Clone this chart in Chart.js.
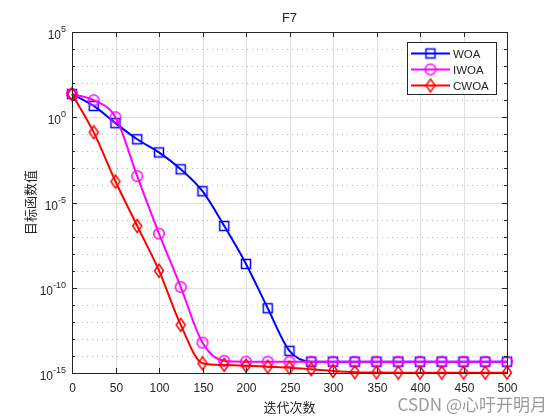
<!DOCTYPE html>
<html>
<head>
<meta charset="utf-8">
<script src="https://cdn.jsdelivr.net/npm/chart.js@4"></script>
<style>
  body { margin: 0; background: #fff; }
  canvas { display: block; }
</style>
</head>
<body>
<canvas id="chart" width="560" height="420"></canvas>
<script>
// ===== data =====
const iterations = [0, 25, 50, 75, 100, 125, 150, 175, 200, 225, 250, 275, 300, 325, 350, 375, 400, 425, 450, 475, 500];
const woa  = [2.3e1, 4.6e0, 4.5e-1, 5.1e-2, 8.7e-3, 8.9e-4, 4.6e-5, 4.2e-7, 2.5e-9, 6.3e-12, 2.0e-14,
              4.6e-15, 4.6e-15, 4.6e-15, 4.6e-15, 4.6e-15, 4.6e-15, 4.6e-15, 4.6e-15, 4.6e-15, 4.6e-15];
const iwoa = [2.3e1, 1.0e1, 1.0e0, 3.5e-4, 1.5e-7, 1.1e-10, 6.0e-14, 5.2e-15,
              4.6e-15, 4.6e-15, 4.6e-15, 4.6e-15, 4.6e-15, 4.6e-15, 4.6e-15, 4.6e-15, 4.6e-15, 4.6e-15, 4.6e-15, 4.6e-15, 4.6e-15];
const cwoa = [2.3e1, 1.3e-1, 1.7e-4, 4.2e-7, 1.0e-9, 6.6e-13, 3.7e-15, 2.95e-15, 2.7e-15, 2.35e-15, 2.05e-15,
              1.66e-15, 1.32e-15, 1.12e-15, 1.08e-15, 1.05e-15, 1.05e-15, 1.05e-15, 1.05e-15, 1.05e-15, 1.05e-15];
const seriesNames = ['WOA', 'IWOA', 'CWOA'];
const xTicks = [0, 50, 100, 150, 200, 250, 300, 350, 400, 450, 500];
const yMajorExp = [-15, -10, -5, 0, 5];

const FONT = '"Liberation Sans", Arial, Helvetica, sans-serif';
const CJK = '"Noto Sans CJK SC", sans-serif';
const AXIS = '#262626';

// ===== markers =====
function makeMarker(shape, color) {
  const c = document.createElement('canvas');
  c.width = 16; c.height = 16;
  const g = c.getContext('2d');
  g.strokeStyle = color;
  g.lineWidth = 1.5;
  g.beginPath();
  if (shape === 'square') {
    g.rect(3.5, 3.5, 9, 9);
  } else if (shape === 'circle') {
    g.arc(8, 8, 5.3, 0, Math.PI * 2);
  } else {
    g.moveTo(8, 1.5); g.lineTo(12.5, 8); g.lineTo(8, 14.5); g.lineTo(3.5, 8); g.closePath();
  }
  g.stroke();
  return c;
}
const colors = ['#0000ff', '#ff00ff', '#ff0000'];
const markers = [makeMarker('square', colors[0]), makeMarker('circle', colors[1]), makeMarker('diamond', colors[2])];

function toPoints(ys) {
  return iterations.map((x, i) => ({ x: x, y: ys[i] }));
}

// ===== matlab style axes, grid, labels, legend =====
const matlabAxes = {
  id: 'matlabAxes',
  beforeDatasetsDraw(chart) {
    const ctx = chart.ctx, a = chart.chartArea;
    const sx = chart.scales.x, sy = chart.scales.y;
    ctx.save();
    ctx.lineWidth = 1;
    // vertical grid
    ctx.strokeStyle = '#e0e0e0';
    xTicks.forEach(v => {
      const x = Math.round(sx.getPixelForValue(v)) + 0.5;
      ctx.beginPath(); ctx.moveTo(x, a.top); ctx.lineTo(x, a.bottom); ctx.stroke();
    });
    // horizontal grid
    for (let e = -15; e <= 5; e++) {
      const y = Math.round(sy.getPixelForValue(Math.pow(10, e))) + 0.5;
      if (e % 5 === 0) {
        ctx.setLineDash([]); ctx.strokeStyle = '#e0e0e0';
      } else {
        ctx.setLineDash([1, 4]); ctx.strokeStyle = '#b8b8b8';
      }
      ctx.beginPath(); ctx.moveTo(a.left, y); ctx.lineTo(a.right, y); ctx.stroke();
    }
    ctx.restore();
  },
  afterDraw(chart) {
    const ctx = chart.ctx, a = chart.chartArea;
    const sx = chart.scales.x, sy = chart.scales.y;
    ctx.save();
    ctx.strokeStyle = AXIS;
    ctx.fillStyle = AXIS;
    ctx.lineWidth = 1;
    // box
    ctx.strokeRect(Math.round(a.left) + 0.5, Math.round(a.top) + 0.5,
                   Math.round(a.right - a.left), Math.round(a.bottom - a.top));
    // x ticks
    ctx.font = '12px ' + FONT;
    ctx.textAlign = 'center';
    ctx.textBaseline = 'alphabetic';
    xTicks.forEach(v => {
      const x = Math.round(sx.getPixelForValue(v)) + 0.5;
      ctx.beginPath();
      ctx.moveTo(x, a.bottom); ctx.lineTo(x, a.bottom - 5);
      ctx.moveTo(x, a.top); ctx.lineTo(x, a.top + 5);
      ctx.stroke();
      ctx.fillText(String(v), x, a.bottom + 19);
    });
    // y ticks
    for (let e = -15; e <= 5; e++) {
      const y = Math.round(sy.getPixelForValue(Math.pow(10, e))) + 0.5;
      const len = e % 5 === 0 ? 5 : 3;
      ctx.beginPath();
      ctx.moveTo(a.left, y); ctx.lineTo(a.left + len, y);
      ctx.moveTo(a.right, y); ctx.lineTo(a.right - len, y);
      ctx.stroke();
    }
    yMajorExp.forEach(e => {
      const y = sy.getPixelForValue(Math.pow(10, e));
      const right = a.left - 6;
      ctx.font = '9px ' + FONT;
      ctx.textAlign = 'right';
      ctx.fillText(String(e).replace('-', '-'), right, y);
      const ew = ctx.measureText(String(e)).width;
      ctx.font = '12px ' + FONT;
      ctx.fillText('10', right - ew, y + 7);
    });
    // title and axis labels
    ctx.textAlign = 'center';
    ctx.font = '13px ' + FONT;
    ctx.fillText('F7', (a.left + a.right) / 2, 22);
    ctx.font = '13px ' + CJK;
    ctx.fillText('迭代次数', (a.left + a.right) / 2, 412);
    ctx.save();
    ctx.translate(35, (a.top + a.bottom) / 2);
    ctx.rotate(-Math.PI / 2);
    ctx.fillText('目标函数值', 0, 0);
    ctx.restore();
    // legend
    const lx = 407.5, ly = 42.5, lw = 89, lh = 52;
    ctx.fillStyle = '#fff';
    ctx.fillRect(lx, ly, lw, lh);
    ctx.strokeStyle = AXIS;
    ctx.strokeRect(lx, ly, lw, lh);
    ctx.font = '11.5px ' + FONT;
    ctx.textAlign = 'left';
    seriesNames.forEach((name, i) => {
      const y = 53.5 + i * 16;
      ctx.strokeStyle = colors[i];
      ctx.lineWidth = 2;
      ctx.beginPath(); ctx.moveTo(411, y); ctx.lineTo(450, y); ctx.stroke();
      ctx.drawImage(markers[i], 430.5 - 8, y - 8);
      ctx.fillStyle = AXIS;
      ctx.fillText(name, 453, y + 4.5);
    });
    // watermark
    ctx.fillStyle = 'rgba(120,120,120,0.75)';
    ctx.font = '17px ' + CJK;
    ctx.textAlign = 'right';
    ctx.fillText('CSDN @心吁开明月', 547, 411);
    ctx.restore();
  }
};

// ===== chart =====
function dataset(i, ys, order) {
  return {
    label: seriesNames[i],
    data: toPoints(ys),
    borderColor: colors[i],
    backgroundColor: colors[i],
    borderWidth: 2,
    pointStyle: markers[i],
    pointRadius: 6,
    cubicInterpolationMode: 'monotone',
    clip: false,
    order: order
  };
}

new Chart(document.getElementById('chart'), {
  type: 'line',
  data: {
    datasets: [dataset(0, woa, 3), dataset(1, iwoa, 2), dataset(2, cwoa, 1)]
  },
  options: {
    responsive: false,
    animation: false,
    layout: { padding: { left: 72, right: 53, top: 32, bottom: 47 } },
    plugins: { legend: { display: false }, tooltip: { enabled: false }, title: { display: false } },
    scales: {
      x: { type: 'linear', min: 0, max: 500, display: false },
      y: { type: 'logarithmic', min: 1e-15, max: 1e5, display: false }
    }
  },
  plugins: [matlabAxes]
});
</script>
</body>
</html>
